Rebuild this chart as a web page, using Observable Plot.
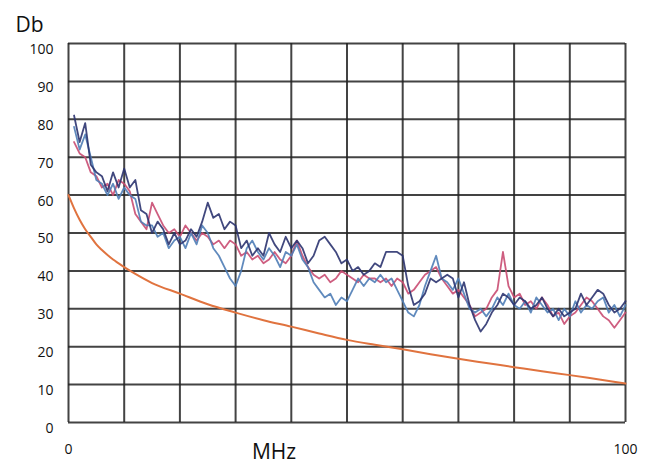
<!DOCTYPE html>
<html>
<head>
<meta charset="utf-8">
<script src="https://cdn.jsdelivr.net/npm/d3@7"></script>
<script src="https://cdn.jsdelivr.net/npm/@observablehq/plot@0.6"></script>
<style>
  html, body { margin: 0; padding: 0; background: #fff; }
  #chart svg { display: block; }
</style>
</head>
<body>
<div id="chart"></div>
<script>
const freqs = d3.range(1, 101);
const navy = [81,74,79,68,66,65,61,66,62,67,62,64,56,55,50,53,51,47,50,47,48,51,49,53,58,54,55,51,53,52,46,48,44,46,44,50,47,45,49,46,48,46,42,44,48,49,47,45,42,43,40,41,39,40,42,41,45,45,45,44,36,31,32,34,38,37,38,39,38,33,37,31,27,24,26,29,31,34,33,31,33,32,30,31,33,30,28,30,28,29,30,34,31,33,35,34,31,29,30,32];
const steel = [78,72,76,70,64,63,60,63,59,62,60,59,53,52,52,49,50,46,48,49,46,50,47,52,50,46,44,41,38,36,40,46,48,45,43,46,44,41,45,44,47,43,41,37,35,33,34,31,33,32,35,38,36,38,37,39,37,38,35,32,29,28,31,36,40,44,38,37,35,38,34,30,29,30,28,30,33,31,34,31,30,32,29,33,31,29,30,27,30,28,32,29,31,30,32,33,29,31,28,31];
const pink = [74,71,70,66,65,62,63,60,64,63,61,55,53,51,58,55,52,50,51,49,52,50,48,50,49,47,48,46,48,47,44,45,43,44,42,43,45,43,42,44,48,44,41,39,38,39,37,38,40,39,38,37,39,38,38,37,38,36,38,37,34,35,37,39,40,41,38,36,34,35,33,31,28,29,30,33,35,45,36,33,34,31,32,30,33,31,28,29,26,28,29,31,33,32,30,28,27,25,27,29];
const limitFreqs = [0,1,2,3,4,5,6,7,8,9,10,12,15,20,25,30,35,40,45,50,55,60,65,70,75,80,85,90,95,100];
const limitDb = [60,56.5,53.5,51,49,47,45.5,44.2,43,42,41,39.2,36.8,34,31.2,29,27,25.3,23.5,21.8,20.5,19.3,18,16.8,15.7,14.6,13.5,12.5,11.4,10.3];
const gridTicks = d3.range(0, 101, 10);
const xTickLabels = [0, 100];

const series = [
  {name: "pink", values: pink, color: "#c94c72"},
  {name: "steel", values: steel, color: "#4f7db6"},
  {name: "navy", values: navy, color: "#2c3470"}
];
const rows = series.flatMap(s => s.values.map((v, i) => ({f: freqs[i], db: v, s: s.name})));
const limit = limitFreqs.map((f, i) => ({f, db: limitDb[i]}));

const font = "'Open Sans', 'Noto Sans', sans-serif";
const chart = Plot.plot({
  width: 655,
  height: 466,
  marginLeft: 68,
  marginRight: 30,
  marginTop: 43,
  marginBottom: 44,
  style: {fontFamily: font, fontSize: "14px", color: "#111", background: "#fff"},
  x: {domain: [0, 100]},
  y: {domain: [0, 100]},
  marks: [
    Plot.ruleX(gridTicks, {stroke: "#222", strokeWidth: 2, strokeOpacity: 0.85}),
    Plot.ruleY(gridTicks, {stroke: "#222", strokeWidth: 2, strokeOpacity: 0.85}),
    Plot.line(limit, {x: "f", y: "db", stroke: "#e0733f", strokeWidth: 2, curve: "monotone-x"}),
    ...series.map(s => Plot.line(rows.filter(r => r.s === s.name), {x: "f", y: "db", stroke: s.color, strokeWidth: 1.8, strokeOpacity: 0.9})),
    Plot.axisY(gridTicks, {tickSize: 0, tickPadding: 15, dy: 6, fontSize: 14, label: null}),
    Plot.axisX(xTickLabels, {tickSize: 0, tickPadding: 22, fontSize: 14, label: null}),
    Plot.text(["Db"], {frameAnchor: "top-left", dx: -39, dy: -26, fontSize: 21, lineHeight: 1, textAnchor: "middle", fill: "#111"}),
    Plot.text(["MHz"], {frameAnchor: "bottom", dx: -73, dy: 36, fontSize: 21, textAnchor: "middle", fill: "#111"})
  ]
});
document.getElementById("chart").appendChild(chart);
</script>
</body>
</html>
